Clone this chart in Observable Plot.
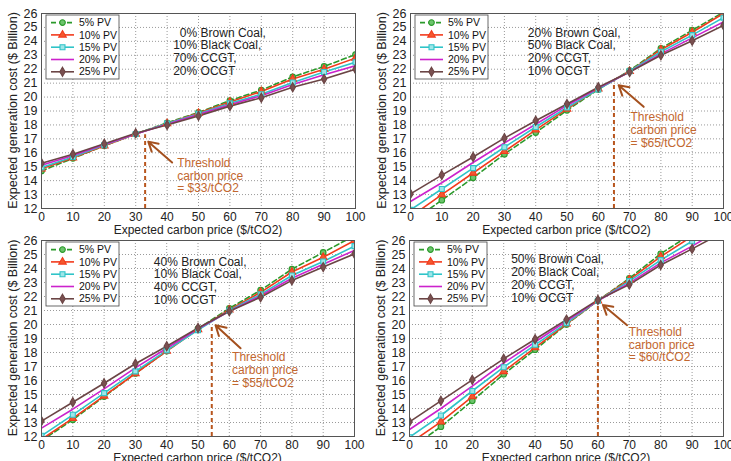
<!DOCTYPE html>
<html><head><meta charset="utf-8">
<script src="https://cdn.jsdelivr.net/npm/d3@7"></script>
<script src="https://cdn.jsdelivr.net/npm/@observablehq/plot@0.6"></script>
<style>
html,body{margin:0;padding:0;background:#fff;}
body{width:731px;height:461px;overflow:hidden;position:relative;font-family:"Liberation Sans",Arial,sans-serif;}
.panel{position:absolute;}
.panel svg{overflow:visible;}
</style></head><body>
<div id="pA" class="panel" style="left:0px;top:0px"></div>
<div id="pB" class="panel" style="left:365px;top:0px"></div>
<div id="pC" class="panel" style="left:0px;top:227px"></div>
<div id="pD" class="panel" style="left:365px;top:227px"></div>
<script>
// ---------- data ----------
const carbonPrice = [0, 10, 20, 30, 40, 50, 60, 70, 80, 90, 100];
const pvShares = ["5% PV", "10% PV", "15% PV", "20% PV", "25% PV"];
const priceTicks = [0, 10, 20, 30, 40, 50, 60, 70, 80, 90, 100];
const costTicks = [12, 13, 14, 15, 16, 17, 18, 19, 20, 21, 22, 23, 24, 25, 26];
const xLabel = "Expected carbon price ($/tCO2)";
const yLabel = "Expected generation cost ($ Billion)";

// Panel A: 0% Brown, 10% Black, 70% CCGT, 20% OCGT
const a_pv5  = [14.7, 15.6, 16.5, 17.35, 18.15, 18.9, 19.75, 20.5, 21.45, 22.2, 23.05];
const a_pv10 = [14.85, 15.65, 16.5, 17.35, 18.1, 18.85, 19.65, 20.4, 21.3, 22.0, 22.8];
const a_pv15 = [14.95, 15.7, 16.55, 17.35, 18.1, 18.8, 19.55, 20.2, 21.05, 21.8, 22.5];
const a_pv20 = [15.1, 15.8, 16.6, 17.35, 18.05, 18.75, 19.45, 20.1, 20.9, 21.6, 22.25];
const a_pv25 = [15.25, 15.9, 16.65, 17.4, 18.0, 18.65, 19.35, 19.95, 20.7, 21.3, 22.0];

// Panel B: 20% Brown, 50% Black, 20% CCGT, 10% OCGT
const b_pv5  = [11.0, 12.6, 14.2, 15.9, 17.45, 19.05, 20.55, 21.9, 23.5, 24.8, 26.1];
const b_pv10 = [11.4, 13.0, 14.55, 16.1, 17.65, 19.15, 20.6, 21.85, 23.4, 24.65, 26.0];
const b_pv15 = [11.9, 13.4, 14.9, 16.4, 17.85, 19.25, 20.55, 21.85, 23.25, 24.45, 25.7];
const b_pv20 = [12.5, 13.85, 15.3, 16.7, 18.05, 19.4, 20.65, 21.8, 23.1, 24.25, 25.4];
const b_pv25 = [13.05, 14.4, 15.7, 17.05, 18.3, 19.5, 20.7, 21.8, 23.0, 24.05, 25.15];

// Panel C: 40% Brown, 10% Black, 40% CCGT, 10% OCGT
const c_pv5  = [11.7, 13.2, 14.85, 16.5, 18.1, 19.7, 21.15, 22.45, 23.95, 25.15, 26.35];
const c_pv10 = [11.8, 13.3, 14.9, 16.5, 18.1, 19.65, 21.05, 22.3, 23.75, 24.8, 26.0];
const c_pv15 = [12.05, 13.55, 15.1, 16.65, 18.15, 19.6, 21.0, 22.15, 23.5, 24.5, 25.6];
const c_pv20 = [12.6, 13.95, 15.4, 16.9, 18.3, 19.7, 20.95, 22.05, 23.3, 24.3, 25.3];
const c_pv25 = [13.1, 14.45, 15.8, 17.2, 18.45, 19.75, 20.95, 21.95, 23.15, 24.1, 25.05];

// Panel D: 50% Brown, 20% Black, 20% CCGT, 10% OCGT
const d_pv5  = [11.1, 12.7, 14.55, 16.45, 18.2, 20.0, 21.7, 23.3, 25.05, 26.5, 28.0];
const d_pv10 = [11.5, 13.05, 14.85, 16.65, 18.35, 20.05, 21.7, 23.2, 24.85, 26.3, 27.8];
const d_pv15 = [11.95, 13.5, 15.25, 16.95, 18.55, 20.1, 21.7, 23.1, 24.6, 25.95, 27.3];
const d_pv20 = [12.5, 14.0, 15.6, 17.25, 18.75, 20.25, 21.7, 22.95, 24.4, 25.6, 26.9];
const d_pv25 = [13.05, 14.55, 16.05, 17.55, 18.95, 20.35, 21.75, 22.85, 24.25, 25.4, 26.6];

// Mix descriptions
const mixA = ["\u00a0\u00a00% Brown Coal,", "10% Black Coal,", "70% CCGT,", "20% OCGT"];
const mixB = ["20% Brown Coal,", "50% Black Coal,", "20% CCGT,", "10% OCGT"];
const mixC = ["40% Brown Coal,", "10% Black Coal,", "40% CCGT,", "10% OCGT"];
const mixD = ["50% Brown Coal,", "20% Black Coal,", "20% CCGT,", "10% OCGT"];

// Threshold annotations (data units)
const thresholdLabels = ["= $33/tCO2", "= $65/tCO2", "= $55/tCO2", "= $60/tCO2"];
const thresholdPrice = [33, 65, 54.4, 60];
const thresholdCost = [17.3, 21.1, 20.0, 21.45];
const arrowTip = [[34, 16.8], [66.5, 20.85], [55.6, 19.95], [61.6, 21.4]];
const arrowTail = [[41.6, 15.3], [74.5, 19.3], [63.6, 18.3], [69.3, 19.95]];
const noteAt = [[43.2, 15.63], [70.3, 18.9], [60.9, 18.03], [69.8, 19.82]];

// ---------- styles ----------
const seriesColors = ["#2b9a2b", "#f23a1c", "#2fc4c8", "#cc22cc", "#6b4545"];
const seriesFills = ["#6cc46c", "#f4582e", "#9ee6e8", "#cc22cc", "#7a5050"];
const seriesSymbols = ["circle", "triangle", "square", null, "diamond"];
const seriesDash = ["5,3", null, null, null, null];
const noteColor = "#b8561e";
const markerR = 2.8;

function drawPanel(id, w, h, ml, mr, mt, mb, series, mix, k, mixDx, mixDy) {
  const rows = [];
  series.forEach((vals, i) => vals.forEach((v, j) => rows.push({price: carbonPrice[j], cost: v, pv: pvShares[i]})));
  const marks = [
    Plot.gridX({ticks: priceTicks, stroke: "#9a9a9a", strokeOpacity: 1, strokeDasharray: "1,2"}),
    Plot.gridY({ticks: costTicks, stroke: "#9a9a9a", strokeOpacity: 1, strokeDasharray: "1,2"}),
    Plot.axisX({ticks: priceTicks, tickSize: 0, tickPadding: 4, label: null, fontSize: 12}),
    Plot.axisY({ticks: costTicks, tickSize: 0, tickPadding: 4, label: null, fontSize: 12.5})
  ];
  marks.push(Plot.ruleX([thresholdPrice[k]], {x: d => d, y1: 12, y2: thresholdCost[k], stroke: noteColor, strokeWidth: 2, strokeDasharray: "4,3"}));
  pvShares.forEach((name, i) => {
    const d = rows.filter(r => r.pv === name);
    marks.push(Plot.line(d, {x: "price", y: "cost", stroke: seriesColors[i], strokeWidth: 1.6, strokeDasharray: seriesDash[i], clip: true}));
  });
  pvShares.forEach((name, i) => {
    if (!seriesSymbols[i]) return;
    const d = rows.filter(r => r.pv === name);
    marks.push(Plot.dot(d, {x: "price", y: "cost", symbol: seriesSymbols[i], r: markerR, stroke: seriesColors[i], fill: seriesFills[i], strokeWidth: 1.1, clip: true}));
  });
  marks.push(Plot.arrow([0], {x1: () => arrowTail[k][0], y1: () => arrowTail[k][1], x2: () => arrowTip[k][0], y2: () => arrowTip[k][1], stroke: "#a4501e", strokeWidth: 2, headLength: 9}));
  marks.push(Plot.text([0], {x: () => noteAt[k][0], y: () => noteAt[k][1], text: () => "Threshold\ncarbon price\n" + thresholdLabels[k], textAnchor: "start", lineAnchor: "top", lineHeight: 1.06, fill: "#c2672f", fontSize: 12}));
  marks.push(Plot.text([0], {frameAnchor: "top-left", dx: mixDx, dy: mixDy, text: () => mix.join("\n"), textAnchor: "start", lineAnchor: "top", lineHeight: 1.07, fill: "#222", fontSize: 12}));
  marks.push(Plot.frame({stroke: "#555"}));

  const svg = Plot.plot({
    width: w, height: h,
    marginLeft: ml, marginRight: mr, marginTop: mt, marginBottom: mb,
    x: {domain: [0, 100]},
    y: {domain: [12, 26]},
    style: {fontFamily: "'Liberation Sans', Arial, sans-serif", fontSize: "12px", color: "#222", background: "none", overflow: "visible"},
    marks
  });

  const s = d3.select(svg);
  // legend
  const g = s.append("g").attr("transform", `translate(${ml + 5},${mt + 2})`).attr("text-anchor", "start");
  g.append("rect").attr("width", 73).attr("height", 64).attr("fill", "#fff").attr("stroke", "#444").attr("stroke-width", 0.8);
  pvShares.forEach((name, i) => {
    const cy = 7.6 + i * 12.3;
    const ln = g.append("line").attr("x1", 5).attr("x2", 28).attr("y1", cy).attr("y2", cy)
      .attr("stroke", seriesColors[i]).attr("stroke-width", 1.6);
    if (seriesDash[i]) ln.attr("stroke-dasharray", seriesDash[i]);
    if (seriesSymbols[i]) {
      const t = {circle: d3.symbolCircle, triangle: d3.symbolTriangle, square: d3.symbolSquare, diamond: d3.symbolDiamond}[seriesSymbols[i]];
      g.append("path").attr("d", d3.symbol(t, Math.PI * markerR * markerR)()).attr("transform", `translate(16.5,${cy})`)
        .attr("fill", seriesFills[i]).attr("stroke", seriesColors[i]).attr("stroke-width", 1.1);
    }
    g.append("text").attr("x", 33).attr("y", cy).attr("dy", "0.35em").attr("text-anchor", "start")
      .attr("font-size", 10.5).attr("fill", "#111").text(name);
  });
  // axis titles
  const fx = ml + (w - ml - mr) / 2;
  s.append("text").attr("x", fx).attr("y", h - mb + 21.5).attr("dy", "0.35em").attr("text-anchor", "middle")
    .attr("font-size", 12).attr("fill", "#222").text(xLabel);
  const fy = mt + (h - mt - mb) / 2;
  s.append("text").attr("transform", `translate(${ml - 28},${fy}) rotate(-90)`).attr("dy", "0.35em").attr("text-anchor", "middle")
    .attr("font-size", 12.5).attr("fill", "#222").text(yLabel);
  document.getElementById(id).appendChild(svg);
}

drawPanel("pA", 365, 234, 41, 10, 13, 26, [a_pv5, a_pv10, a_pv15, a_pv20, a_pv25], mixA, 0, 131.7, 14);
drawPanel("pB", 366, 234, 45, 8, 13, 26, [b_pv5, b_pv10, b_pv15, b_pv20, b_pv25], mixB, 1, 117.3, 14);
drawPanel("pC", 365, 234, 41, 11, 13, 25, [c_pv5, c_pv10, c_pv15, c_pv20, c_pv25], mixC, 2, 112.3, 16);
drawPanel("pD", 366, 234, 44, 8, 13, 25, [d_pv5, d_pv10, d_pv15, d_pv20, d_pv25], mixD, 3, 101.7, 13.5);
</script>
</body></html>
